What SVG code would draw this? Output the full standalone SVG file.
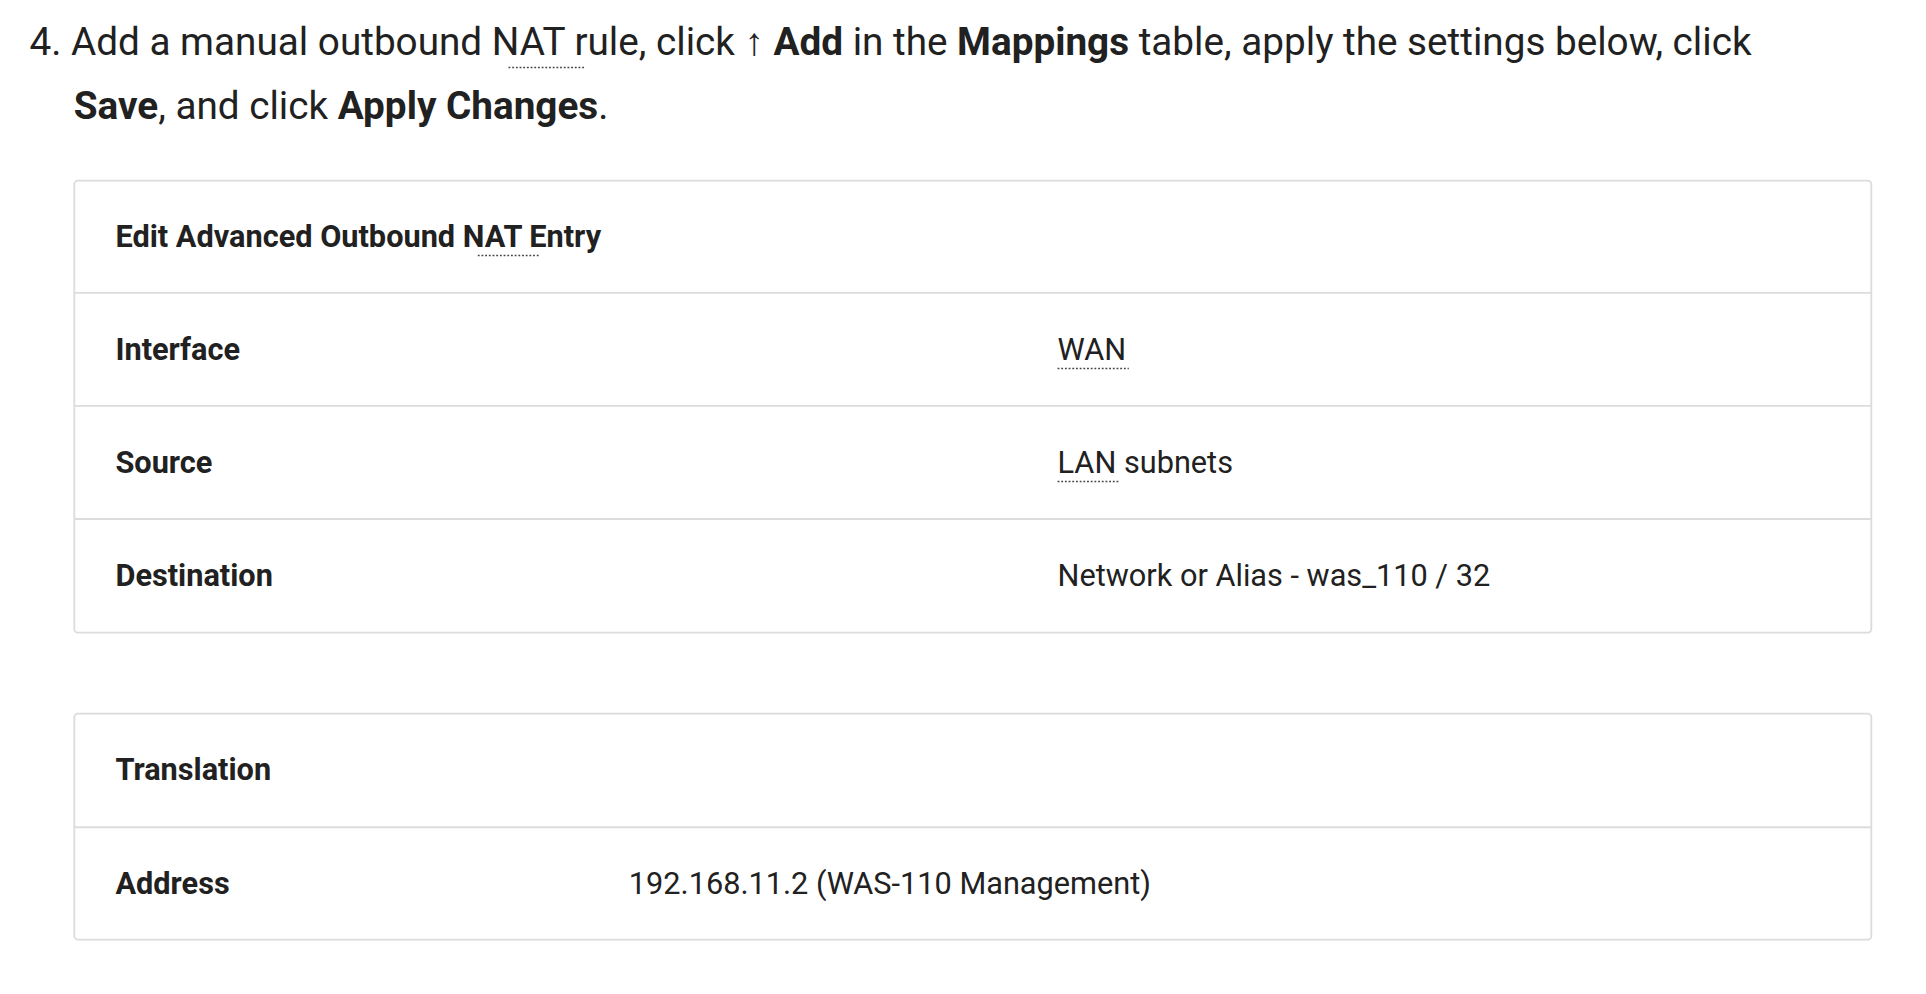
<svg xmlns="http://www.w3.org/2000/svg" width="1926" height="994" viewBox="0 0 1926 994">
<style>
text{font-family:Roboto,"Liberation Sans",sans-serif;fill:#212121}
.p{font-size:31.5px}
.t{font-size:25px}
.b{font-weight:bold}
.box{fill:#fff;stroke:#dcdcdc;stroke-width:1.5}
.ln{stroke:#dcdcdc;stroke-width:1.5}
.dot{stroke:#444;stroke-width:1.2;stroke-dasharray:1.5 1.5}
</style>
<rect width="1926" height="994" fill="#fff"/>
<g transform="scale(1.2283)">
<g id="intro">
<text class="p" x="24" y="45">4. Add a manual outbound NAT rule, click ↑ <tspan class="b">Add</tspan> in the <tspan class="b">Mappings</tspan> table, apply the settings below, click</text>
<text class="p" x="60" y="97"><tspan class="b">Save</tspan>, and click <tspan class="b">Apply Changes</tspan>.</text>
<line class="dot" x1="414" y1="55" x2="476" y2="55"/>
</g>
<g id="table1">
<rect class="box" x="60.5" y="147" width="1463" height="368" rx="3"/>
<line class="ln" x1="60.5" y1="238.5" x2="1523.5" y2="238.5"/>
<line class="ln" x1="60.5" y1="330.5" x2="1523.5" y2="330.5"/>
<line class="ln" x1="60.5" y1="422.5" x2="1523.5" y2="422.5"/>
<text class="t b" x="94" y="201">Edit Advanced Outbound NAT Entry</text>
<line class="dot" x1="389" y1="208" x2="439" y2="208"/>
<text class="t b" x="94" y="293">Interface</text>
<text class="t" x="861" y="293">WAN</text>
<line class="dot" x1="861" y1="300" x2="919" y2="300"/>
<text class="t b" x="94" y="385">Source</text>
<text class="t" x="861" y="385">LAN subnets</text>
<line class="dot" x1="861" y1="392" x2="911" y2="392"/>
<text class="t b" x="94" y="477">Destination</text>
<text class="t" x="861" y="477">Network or Alias - was_110 / 32</text>
</g>
<g id="table2">
<rect class="box" x="60.5" y="581" width="1463" height="184" rx="3"/>
<line class="ln" x1="60.5" y1="673.5" x2="1523.5" y2="673.5"/>
<text class="t b" x="94" y="635">Translation</text>
<text class="t b" x="94" y="728">Address</text>
<text class="t" x="512" y="728">192.168.11.2 (WAS-110 Management)</text>
</g>
</g>
</svg>
